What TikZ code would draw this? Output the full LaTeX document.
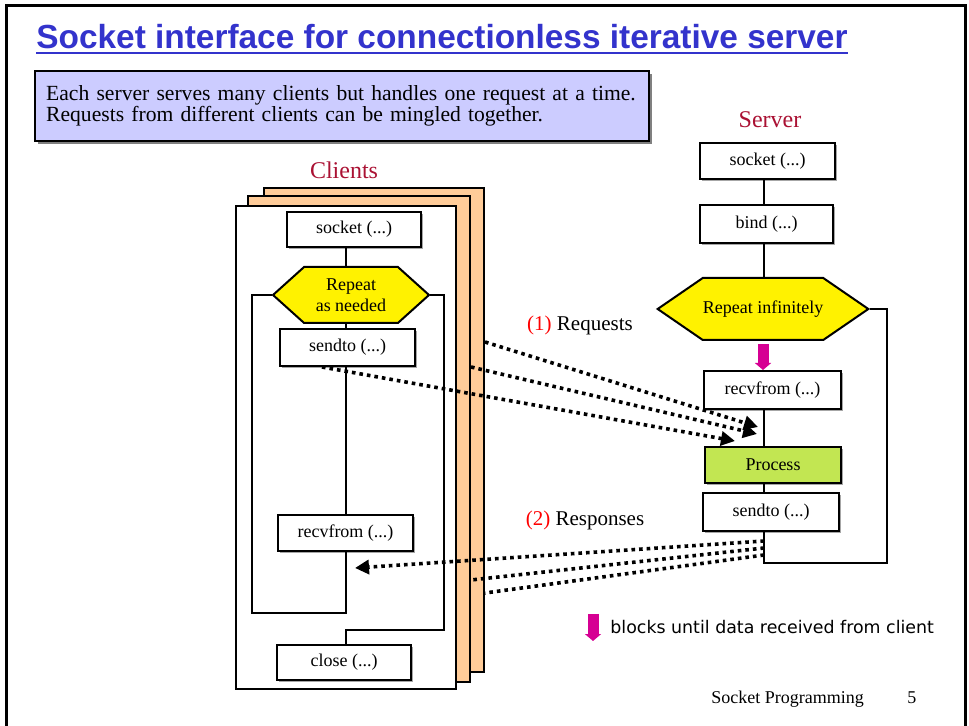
\documentclass[tikz,border=0pt]{standalone}
\usepackage{fontspec}
\setmainfont{Liberation Serif}
\newfontfamily\titlefont{Liberation Sans}
\newfontfamily\notefont{DejaVu Sans}
\usetikzlibrary{arrows.meta,positioning,shapes.symbols,shadows}
\definecolor{titleblue}{RGB}{51,51,204}
\definecolor{rolered}{RGB}{170,17,51}
\definecolor{notelilac}{RGB}{204,204,255}
\definecolor{pageorange}{RGB}{255,204,153}
\definecolor{procgreen}{RGB}{194,230,82}
\definecolor{blockmag}{RGB}{214,0,147}

\begin{document}
\begin{tikzpicture}[
    x=0.5pt, y=-0.5pt,
    font=\fontsize{9}{10.5}\selectfont,
    line/.style={line width=1pt},
    fnbox/.style={draw, line width=1pt, fill=white, inner sep=0pt,
      drop shadow={shadow xshift=1pt, shadow yshift=-1pt, fill=black!35, opacity=1}},
    loophex/.style={signal, signal to=east and west, draw, line width=1pt, fill=yellow, inner sep=0pt, align=center},
    clientpage/.style={draw, line width=1pt, anchor=north west},
    msg/.style={line width=1.8pt, dash pattern=on 1.8pt off 2pt},
    msgtip/.style={-{Triangle[length=7pt, width=7pt]}},
    blockarrow/.style={line width=5.5pt, blockmag, -{Triangle[length=3.5pt, width=8pt]}},
    rolelabel/.style={text=rolered, font=\fontsize{12}{14}\selectfont}
  ]
  \useasboundingbox (0,0) rectangle (969,726);
  \draw[line width=1.5pt] (6,740) -- (6,6) -- (965,6) -- (965,740);

  % heading and note
  \node[anchor=base west, inner sep=0pt, text=titleblue, font=\titlefont\bfseries\fontsize{16.7}{20}\selectfont] (title) at (36,49) {Socket interface for connectionless iterative server};
  \draw[titleblue, line width=1.2pt] ([yshift=-2pt]title.base west) -- ([yshift=-2pt]title.base east);
  \node[draw, line width=1.2pt, fill=notelilac, anchor=north west, minimum width=307pt, minimum height=35pt,
    text width=296pt, inner xsep=5.5pt, align=left, font=\fontsize{10.8}{10.5}\selectfont,
    drop shadow={shadow xshift=1.5pt, shadow yshift=-1.5pt, fill=black!50, opacity=1}] (note) at (34,70)
    {Each server serves many clients but handles one request at a time.\\Requests from different clients can be mingled together.};

  % clients
  \node[rolelabel] (clients) at (344,170) {Clients};
  \node[clientpage, fill=pageorange, minimum width=110pt, minimum height=242pt] (page3) at (263,187) {};
  \node[clientpage, fill=pageorange, minimum width=111pt, minimum height=243pt] (page2) at (247,195) {};
  \node[clientpage, fill=white, minimum width=110pt, minimum height=241.5pt] (page1) at (235,205) {};

  \node[fnbox, minimum width=67pt, minimum height=17.5pt] (csock) at (354,229.5) {socket (...)};
  \node[loophex, signal pointer angle=84, minimum width=78pt, minimum height=28pt] (chex) at (351,295) {Repeat\\as needed};
  \node[fnbox, minimum width=67.5pt, minimum height=18.5pt] (csend) at (347.5,347.5) {sendto (...)};
  \node[fnbox, minimum width=67.5pt, minimum height=18pt] (crecv) at (345.5,533) {recvfrom (...)};
  \node[fnbox, minimum width=67pt, minimum height=17.5pt] (cclose) at (344,662.5) {close (...)};

  \coordinate (cx) at (346,0);
  \draw[line] (csock.south -| cx) -- (chex.north -| cx);
  \draw[line] (chex.south -| cx) -- (csend.north -| cx);
  \draw[line] (csend.south -| cx) -- (crecv.north -| cx);
  \draw[line] (chex.west) -| (252,613) -| (crecv.south -| cx);
  \draw[line] (chex.east) -| (444,630) -| (cclose.north -| cx);

  % server
  \node[rolelabel] (server) at (770,120) {Server};
  \node[fnbox, minimum width=67.5pt, minimum height=18pt] (ssock) at (767.5,161) {socket (...)};
  \node[fnbox, minimum width=66.5pt, minimum height=19pt] (sbind) at (766.5,224) {bind (...)};
  \node[loophex, signal pointer angle=69, minimum width=105pt, minimum height=31pt] (shex) at (763,309) {Repeat infinitely};
  \node[fnbox, minimum width=68.5pt, minimum height=19pt] (srecv) at (772.5,390) {recvfrom (...)};
  \node[fnbox, fill=procgreen, minimum width=68pt, minimum height=18pt] (sproc) at (773,465) {Process};
  \node[fnbox, minimum width=68pt, minimum height=19pt] (ssend) at (771,512) {sendto (...)};

  \coordinate (sx) at (764,0);
  \draw[line] (ssock.south -| sx) -- (sbind.north -| sx);
  \draw[line] (sbind.south -| sx) -- (shex.north -| sx);
  \draw[blockarrow] ([yshift=-1.5pt]shex.south) -- (srecv.north -| shex.south);
  \draw[line] (srecv.south -| sx) -- (sproc.north -| sx);
  \draw[line] (sproc.south -| sx) -- (ssend.north -| sx);
  \draw[line] (shex.east) -| (887,563) -| (ssend.south -| sx);

  % requests and responses
  \coordinate (req1) at (735,441);
  \coordinate (req2) at (757,434);
  \coordinate (req3) at (758,427);
  \draw[msg, msgtip] ([xshift=-12.75pt]csend.south) -- (req1);
  \draw[msg, msgtip] (page2.east |- 0,367) -- (req2);
  \draw[msg, msgtip] (page3.east |- 0,342) -- (req3);
  \node[font=\fontsize{10.5}{12}\selectfont] (reqlabel) at (580,325) {\textcolor{red}{(1)} Requests};

  \coordinate (res1) at (764,541);
  \coordinate (res2) at (764,548);
  \coordinate (res3) at (764,555);
  \coordinate (back1) at (355,568);
  \draw[msg, msgtip] (res1) -- (back1);
  \draw[msg] (res2) -- (page2.east |- 0,580);
  \draw[msg] (res3) -- (page3.east |- 0,593);
  \node[font=\fontsize{10.5}{12}\selectfont] (reslabel) at (585,520) {\textcolor{red}{(2)} Responses};

  % legend and footer
  \draw[blockarrow] (593,614) -- (593,641);
  \node[anchor=base west, inner sep=0pt, font=\notefont\fontsize{8.7}{10}\selectfont] (legend) at (610,633) {blocks until data received from client};
  \node[anchor=base west, inner sep=0pt] (footer) at (711,703) {Socket Programming};
  \node[anchor=base west, inner sep=0pt] (pageno) at (907,703) {5};
\end{tikzpicture}
\end{document}
